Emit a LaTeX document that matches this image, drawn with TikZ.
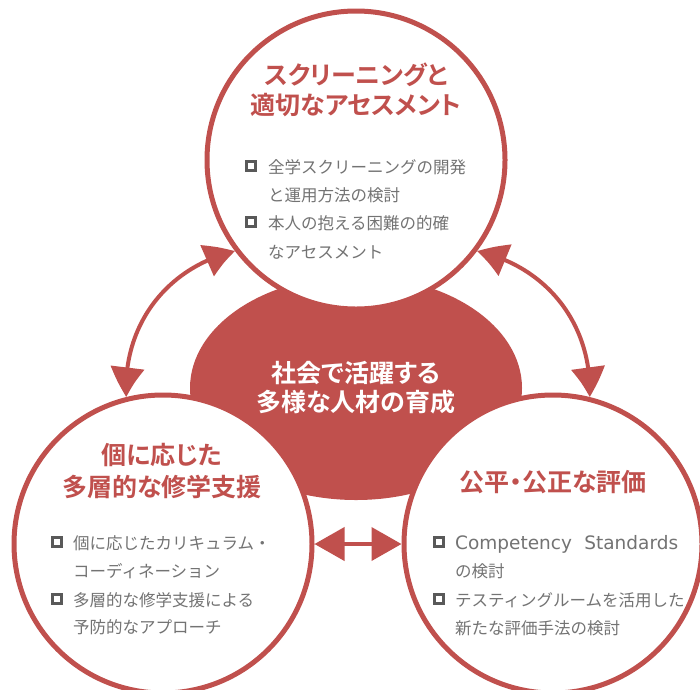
\documentclass[tikz,border=0pt]{standalone}
\usepackage{fontspec}
\usetikzlibrary{arrows.meta,bending}
\newfontfamily\jpreg{Noto Sans CJK JP}
\newfontfamily\jpbold[RawFeature=+palt]{Noto Sans CJK JP Bold}
\newfontfamily\latinfont{DejaVu Sans}
\definecolor{myred}{HTML}{C0504D}
\definecolor{txtgrey}{HTML}{737373}
\definecolor{boxgrey}{HTML}{595959}
\newcommand{\ttlfont}{\jpbold\fontsize{25}{31}\selectfont}
\newcommand{\bdyfont}{\jpreg\fontsize{16.5}{28}\selectfont}
\tikzset{
  ring/.style={circle, draw=myred, line width=5pt, fill=white, minimum size=298pt, inner sep=0pt},
  conn/.style={draw=myred, line width=4pt, {Triangle[length=30pt,width=33pt,bend]}-{Triangle[length=30pt,width=33pt,bend]}},
  ttl/.style={text=myred, font=\ttlfont, inner sep=0pt, anchor=base},
  ctr/.style={text=white, font=\ttlfont, inner sep=0pt, anchor=base},
  bdy/.style={text=txtgrey, font=\bdyfont, inner sep=0pt, anchor=base west},
  bbox/.style={draw=boxgrey, line width=3pt, minimum size=9.5pt, inner sep=0pt, fill=white}
}
\begin{document}
\begin{tikzpicture}[x=1pt,y=-1pt]
\useasboundingbox (0,0) rectangle (700,689);
% central hub
\fill[myred] (356,388) ellipse [x radius=166, y radius=112];
\coordinate (hub) at (356,388);
% circles
\node[ring] (top) at (356,160) {};
\node[ring] (left) at (163,544) {};
\node[ring] (right) at (553,544) {};
% connectors
\draw[conn] (top.217) to[bend right=40] (left.104);
\draw[conn] (top.323.6) to[bend left=40] (right.76.5);
\draw[conn] (left.0) -- (right.180);
% hub text
\node[ctr] (h1) at (356,382.5) {社会で活躍する};
\node[ctr] (h2) at (356,411.5) {多様な人材の育成};
% top circle
\node[ttl] (t1) at (356,84.5) {スクリーニングと};
\node[ttl] (t2) at (356,114.5) {適切なアセスメント};
\node[bbox] (tb1) at (251,166) {};
\node[bbox] (tb2) at (251,222) {};
\node[bdy] (tx1) at (268,173.3) {全学スクリーニングの開発};
\node[bdy] (tx2) at (268,201.3) {と運用方法の検討};
\node[bdy] (tx3) at (268,229.3) {本人の抱える困難の的確};
\node[bdy] (tx4) at (268,258.3) {なアセスメント};
% left circle
\node[ttl] (l1) at (162,464.5) {個に応じた};
\node[ttl] (l2) at (162,496.5) {多層的な修学支援};
\node[bbox] (lb1) at (57,542) {};
\node[bbox] (lb2) at (57,599) {};
\node[bdy] (lx1) at (73,549.3) {個に応じたカリキュラム・};
\node[bdy] (lx2) at (73,577.3) {コーディネーション};
\node[bdy] (lx3) at (73,606.3) {多層的な修学支援による};
\node[bdy] (lx4) at (73,633.3) {予防的なアプローチ};
% right circle
\node[ttl] (r1) at (553,491.5) {公平・公正な評価};
\node[bbox] (rb1) at (439,542) {};
\node[bbox] (rb2) at (439,599) {};
\node[bdy] (rx1) at (455,549.3) {\latinfont\fontsize{18.5}{28}\selectfont\makebox[223pt][s]{Competency Standards}};
\node[bdy] (rx2) at (455,577.3) {の検討};
\node[bdy] (rx3) at (455,606.3) {テスティングルームを活用した};
\node[bdy] (rx4) at (455,634.3) {新たな評価手法の検討};
\end{tikzpicture}
\end{document}
